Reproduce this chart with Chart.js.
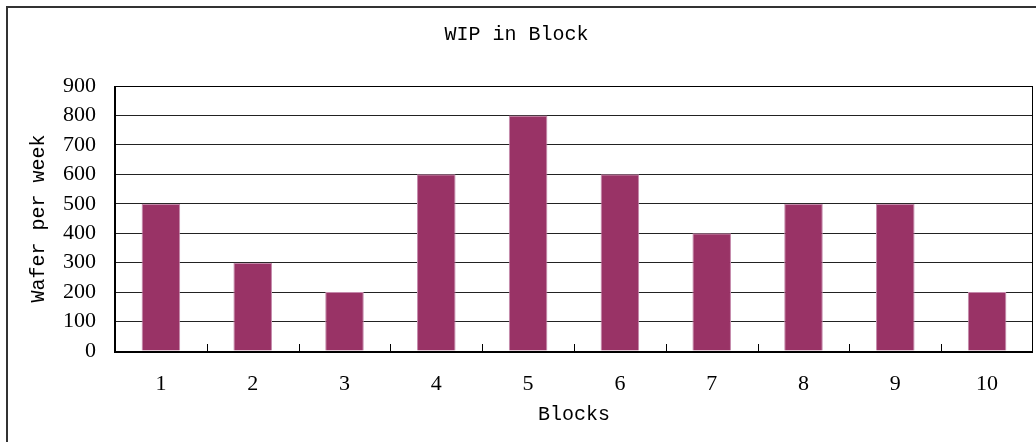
<!DOCTYPE html>
<html lang="en">
<head>
  <meta charset="UTF-8" />
  <title>WIP in Block</title>
  <script src="https://cdn.jsdelivr.net/npm/chart.js"></script>
  <style>
    body {
      margin: 0;
      background-color: #ffffff;
      overflow: hidden;
    }
    .chart-box {
      position: relative;
      width: 1054px;
      height: 442px;
    }
  </style>
</head>
<body>
  <div class="chart-box">
    <canvas id="wipChart"></canvas>
  </div>

<script>
  // data
  const blocks = ['1', '2', '3', '4', '5', '6', '7', '8', '9', '10'];
  const waferPerWeek = [500, 300, 200, 600, 800, 600, 400, 500, 500, 200];
  const yTicks = [0, 100, 200, 300, 400, 500, 600, 700, 800, 900];

  const monoFont = "'Liberation Mono', 'DejaVu Sans Mono', monospace";
  const serifFont = "'Liberation Serif', 'DejaVu Serif', serif";

  // outer frame + plot border + inside tick marks (Excel look)
  const excelFrame = {
    id: 'excelFrame',
    beforeDraw(chart) {
      const ctx = chart.ctx;
      ctx.save();
      ctx.fillStyle = '#ffffff';
      ctx.fillRect(0, 0, chart.width, chart.height);
      ctx.strokeStyle = '#333333';
      ctx.lineWidth = 2;
      ctx.strokeRect(7, 7, chart.width - 12, chart.height + 10);
      ctx.restore();
    },
    afterDraw(chart) {
      const ctx = chart.ctx;
      const a = chart.chartArea;
      const x = chart.scales.x;
      const step = (a.right - a.left) / blocks.length;
      ctx.save();
      ctx.strokeStyle = '#000000';
      ctx.lineWidth = 1;
      ctx.strokeRect(a.left, a.top + 0.5, a.right - a.left - 0.5, a.bottom - a.top);
      ctx.beginPath();
      for (let i = 1; i < blocks.length; i++) {
        const px = Math.round(x.getPixelForValue(i) - step / 2) + 0.5;
        ctx.moveTo(px, a.bottom);
        ctx.lineTo(px, a.bottom - 7);
      }
      ctx.stroke();
      ctx.lineWidth = 2;
      ctx.beginPath();
      ctx.moveTo(a.left, a.top);
      ctx.lineTo(a.left, a.bottom + 1);
      ctx.lineTo(a.right, a.bottom + 1);
      ctx.stroke();
      ctx.restore();
    }
  };

  new Chart(document.getElementById('wipChart'), {
    type: 'bar',
    data: {
      labels: blocks,
      datasets: [{
        label: 'Wafer per week',
        data: waferPerWeek,
        backgroundColor: '#993366',
        borderColor: '#c58aac',
        borderWidth: 1,
        borderSkipped: 'bottom',
        categoryPercentage: 1.0,
        barPercentage: 0.42
      }]
    },
    options: {
      responsive: true,
      maintainAspectRatio: false,
      animation: false,
      layout: { padding: { left: 0, right: 21, top: 0, bottom: 0 } },
      plugins: {
        legend: { display: false },
        tooltip: { enabled: false },
        title: {
          display: true,
          text: 'WIP in Block',
          color: '#000000',
          font: { family: monoFont, size: 20, weight: 'normal' },
          padding: { top: 23, bottom: 39 }
        }
      },
      scales: {
        x: {
          grid: { display: false, drawTicks: false },
          border: { display: false },
          ticks: {
            color: '#000000',
            font: { family: serifFont, size: 22 },
            padding: 20,
            maxRotation: 0
          },
          title: {
            display: true,
            text: 'Blocks',
            color: '#000000',
            font: { family: monoFont, size: 20 },
            padding: { top: 0, bottom: 15 }
          },
          afterFit(scale) { scale.height = 91; }
        },
        y: {
          min: 0,
          max: 900,
          afterBuildTicks(scale) {
            scale.ticks = yTicks.map(v => ({ value: v }));
          },
          grid: { color: '#222222', lineWidth: 1, drawTicks: false },
          border: { display: false },
          ticks: {
            color: '#000000',
            font: { family: serifFont, size: 22 },
            padding: 19
          },
          title: {
            display: true,
            text: 'Wafer per week',
            color: '#000000',
            font: { family: monoFont, size: 20 },
            padding: { top: 27, bottom: 0 }
          },
          afterFit(scale) { scale.width = 115; }
        }
      }
    },
    plugins: [excelFrame]
  });
</script>

</body>
</html>
